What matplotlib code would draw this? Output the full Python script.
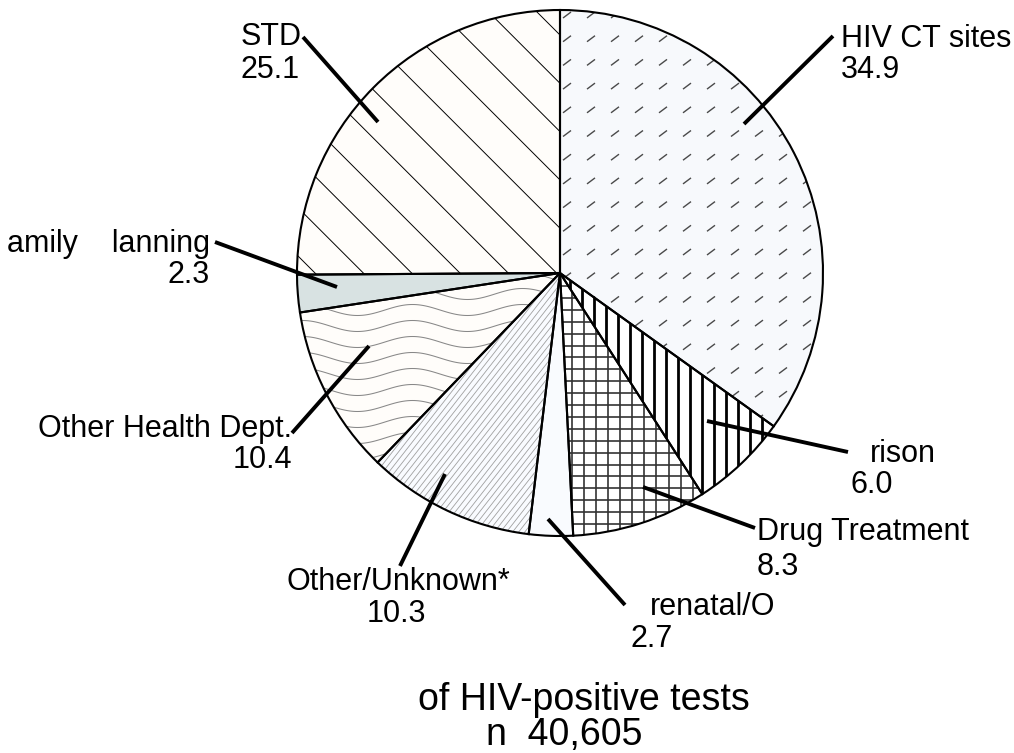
import numpy as np
import matplotlib
matplotlib.use("Agg")
import matplotlib.pyplot as plt
from matplotlib.collections import LineCollection
from matplotlib.patches import Wedge

plt.rcParams['font.family'] = ['Liberation Sans', 'DejaVu Sans']

# ---- data ----
categories = ["HIV CT sites", "Prison", "Drug Treatment", "Prenatal/OB",
              "Other/Unknown*", "Other Health Dept.", "Family Planning", "STD"]
shown_names = ["HIV CT sites", "rison", "Drug Treatment", "renatal/O",
               "Other/Unknown*", "Other Health Dept.", "amily    lanning", "STD"]
values = [34.9, 6.0, 8.3, 2.7, 10.3, 10.4, 2.3, 25.1]
fills = ["#f7f9fc", "#ffffff", "#ffffff", "#f9fbfe",
         "#f9fbff", "#fffdfa", "#d8e2e2", "#fffdfa"]
title_line1 = "of HIV-positive tests"
title_line2 = "n  40,605"

W, H = 1014, 753
fig = plt.figure(figsize=(W / 100, H / 100), dpi=100)
ax = fig.add_axes([0, 0, 1, 1])

def P(x, y):
    return (x, H - y)

CX, CY, R = 560, 273, 263
wedges, _ = ax.pie(values, startangle=90, counterclock=False,
                   center=P(CX, CY), radius=R, colors=fills,
                   wedgeprops=dict(edgecolor='none', linewidth=0))

def add_lines(segs_pix, wedge, color, lw):
    segs = [[P(x, y) for (x, y) in s] for s in segs_pix]
    lc = LineCollection(segs, colors=color, linewidths=lw, zorder=2,
                        capstyle='butt')
    ax.add_collection(lc)
    lc.set_clip_path(wedge)

# HIV CT sites: short slanted dashes
segs = []
for i in range(-2, 15):
    for j in range(-1, 25):
        x = 563 + 24 * i
        y = 15 + 23.7 * j
        segs.append([(x, y + 3), (x + 8, y - 3)])
add_lines(segs, wedges[0], "#4a4a4a", 1.0)

# Prison: vertical thick lines
segs = [[(581.7 + 12 * k, 200), (581.7 + 12 * k, 560)] for k in range(-3, 20)]
add_lines(segs, wedges[1], "black", 2.0)

# Drug Treatment: grid
segs = [[(571.7 + 12.1 * k, 250), (571.7 + 12.1 * k, 560)] for k in range(-3, 20)]
segs += [[(540, 321.7 + 11.9 * k), (800, 321.7 + 11.9 * k)] for k in range(-8, 25)]
add_lines(segs, wedges[2], "#333333", 1.2)

# Other/Unknown: fine diagonal lines
ang = np.deg2rad(52)
d = np.array([np.cos(ang), -np.sin(ang)])
nrm = np.array([np.sin(ang), np.cos(ang)])
segs = []
for k in range(-60, 60):
    p0 = np.array([460, 420]) + nrm * 4.8 * k
    segs.append([tuple(p0 - d * 400), tuple(p0 + d * 400)])
add_lines(segs, wedges[4], "#a0a0a0", 0.6)

# Other Health Dept.: wavy lines
xs = np.arange(280, 580, 2.0)
segs = []
for k in range(-3, 20):
    y0 = 230 + 16 * k
    ys = y0 + 5.5 * np.sin(2 * np.pi * xs / 110.0)
    segs.append(list(zip(xs, ys)))
add_lines(segs, wedges[5], "#888888", 0.75)

# STD: sparse back-diagonal lines
segs = []
for k in range(-15, 15):
    x0 = 315 + 48.3 * k
    segs.append([(x0 - 400, 273 - 400), (x0 + 400, 273 + 400)])
add_lines(segs, wedges[7], "black", 0.7)

# outlines on top
for w in wedges:
    ax.add_patch(Wedge(w.center, w.r, w.theta1, w.theta2, fill=False,
                       edgecolor='black', linewidth=1.5, zorder=3))

# ---- labels ----
FS = 22
label_layout = [
    # (name_xy, name_ha, value_xy, value_ha, leader start, leader end)
    ((840.7, 46.7), 'left', (840.7, 78.3), 'left', (833, 36), (744, 124)),
    ((870, 461.7), 'left', (850, 493), 'left', (848, 452), (707, 421)),
    ((756.7, 540), 'left', (756.7, 575), 'left', (755, 528), (643, 487)),
    ((650, 615), 'left', (630, 646.7), 'left', (625, 605), (548, 519)),
    ((287, 590), 'left', (396.5, 621.7), 'center', (400, 566), (445, 474)),
    ((291.7, 436.7), 'right', (291.7, 468), 'right', (292, 433), (369, 346)),
    ((210, 251.7), 'right', (210, 283), 'right', (215, 242), (337, 287)),
    ((240.7, 45), 'left', (241, 78), 'left', (303, 37), (378, 122)),
]
for name, val, (nxy, nha, vxy, vha, l0, l1) in zip(shown_names, values, label_layout):
    ax.text(*P(*nxy), name, ha=nha, va='baseline', fontsize=FS, zorder=5)
    ax.text(*P(*vxy), f"{val:.1f}", ha=vha, va='baseline', fontsize=FS, zorder=5)
    ax.plot([P(*l0)[0], P(*l1)[0]], [P(*l0)[1], P(*l1)[1]], color='black',
            lw=2.8, solid_capstyle='butt', zorder=6)

ax.text(*P(418, 710), title_line1, ha='left', va='baseline', fontsize=27)
ax.text(*P(486, 745), title_line2, ha='left', va='baseline', fontsize=27)

ax.set_xlim(0, W)
ax.set_ylim(0, H)
ax.set_aspect('equal')
ax.axis('off')
fig.savefig("out.png", dpi=100, facecolor='white')
